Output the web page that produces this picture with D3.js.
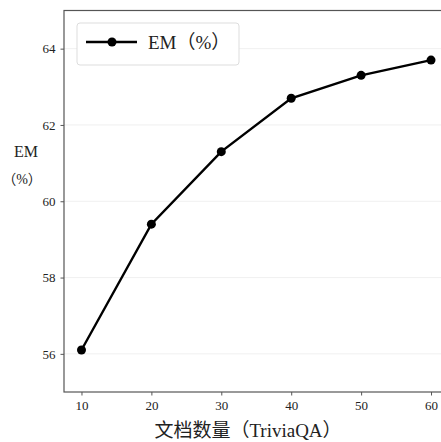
<!DOCTYPE html>
<html>
<head>
<meta charset="utf-8">
<script src="https://cdn.jsdelivr.net/npm/d3@7"></script>
<style>
    body { margin: 0; background: #fff; }
    svg { display: block; }
    .tick text { font-family: "Liberation Serif", "DejaVu Serif", serif; font-size: 13px; fill: #222; }
</style>
</head>
<body>
<svg id="chart" width="441" height="442"></svg>
<script>
// Daten
const docCounts = [10, 20, 30, 40, 50, 60];
const emValues = [56.1, 59.4, 61.3, 62.7, 63.3, 63.7];
const xTicks = [10, 20, 30, 40, 50, 60];
const yTicks = [56, 58, 60, 62, 64];
const seriesName = "EM（%）";

const svg = d3.select("#chart");

// Plotbereich (rechte Achse liegt außerhalb des Bildes)
const plotLeft = 64, plotTop = 10.5, plotBottom = 392, plotRight = 448.5;

const x = d3.scaleLinear().domain([7.5, 62.5]).range([plotLeft, plotRight]);
const y = d3.scaleLinear().domain([55, 65]).range([plotBottom, plotTop]);

// Gitterlinien
svg.append("g")
    .selectAll("line")
    .data(yTicks)
    .join("line")
    .attr("x1", plotLeft).attr("x2", plotRight)
    .attr("y1", d => y(d)).attr("y2", d => y(d))
    .attr("stroke", "#ececec")
    .attr("stroke-width", 0.8);

// Rahmen
svg.append("rect")
    .attr("x", plotLeft).attr("y", plotTop)
    .attr("width", plotRight - plotLeft).attr("height", plotBottom - plotTop)
    .attr("fill", "none")
    .attr("stroke", "#555")
    .attr("stroke-width", 1.2);

// Achsen
const xAxis = svg.append("g")
    .attr("transform", `translate(0,${plotBottom})`)
    .call(d3.axisBottom(x).tickValues(xTicks).tickSize(3.5).tickPadding(5));
const yAxis = svg.append("g")
    .attr("transform", `translate(${plotLeft},0)`)
    .call(d3.axisLeft(y).tickValues(yTicks).tickSize(3.5).tickPadding(5));

[xAxis, yAxis].forEach(g => {
    g.select(".domain").remove();
    g.selectAll(".tick line").attr("stroke", "#555");
});

// Linie
const line = d3.line()
    .x((d, i) => x(docCounts[i]))
    .y(d => y(d));

svg.append("path")
    .datum(emValues)
    .attr("d", line)
    .attr("fill", "none")
    .attr("stroke", "#000")
    .attr("stroke-width", 2.4);

svg.append("g")
    .selectAll("circle")
    .data(emValues)
    .join("circle")
    .attr("cx", (d, i) => x(docCounts[i]))
    .attr("cy", d => y(d))
    .attr("r", 4.5)
    .attr("fill", "#000");

// Legende
const legend = svg.append("g").attr("transform", "translate(77,23)");
legend.append("rect")
    .attr("width", 162).attr("height", 42)
    .attr("rx", 3)
    .attr("fill", "#fff")
    .attr("stroke", "#ddd")
    .attr("stroke-width", 1);
legend.append("line")
    .attr("x1", 9).attr("x2", 60)
    .attr("y1", 19).attr("y2", 19)
    .attr("stroke", "#000").attr("stroke-width", 2.4);
legend.append("circle")
    .attr("cx", 35).attr("cy", 19).attr("r", 4.5).attr("fill", "#000");
legend.append("text")
    .attr("x", 71).attr("y", 26)
    .style("font-family", "'Liberation Serif', 'Noto Sans CJK SC', serif")
    .style("font-size", "19px")
    .attr("fill", "#222")
    .text(seriesName);

// Achsentitel
svg.append("text")
    .attr("x", 26).attr("y", 157)
    .attr("text-anchor", "middle")
    .style("font-family", "'Liberation Serif', serif")
    .style("font-size", "16px")
    .attr("fill", "#222")
    .text("EM");
svg.append("text")
    .attr("x", 22).attr("y", 184)
    .attr("text-anchor", "middle")
    .style("font-family", "'Liberation Serif', 'Noto Sans CJK SC', serif")
    .style("font-size", "14px")
    .attr("fill", "#222")
    .text("（%）");

svg.append("text")
    .attr("x", 248).attr("y", 437)
    .attr("text-anchor", "middle")
    .style("font-family", "'Liberation Serif', 'Noto Sans CJK SC', serif")
    .style("font-size", "19px")
    .attr("fill", "#222")
    .text("文档数量（TriviaQA）");
</script>
</body>
</html>
